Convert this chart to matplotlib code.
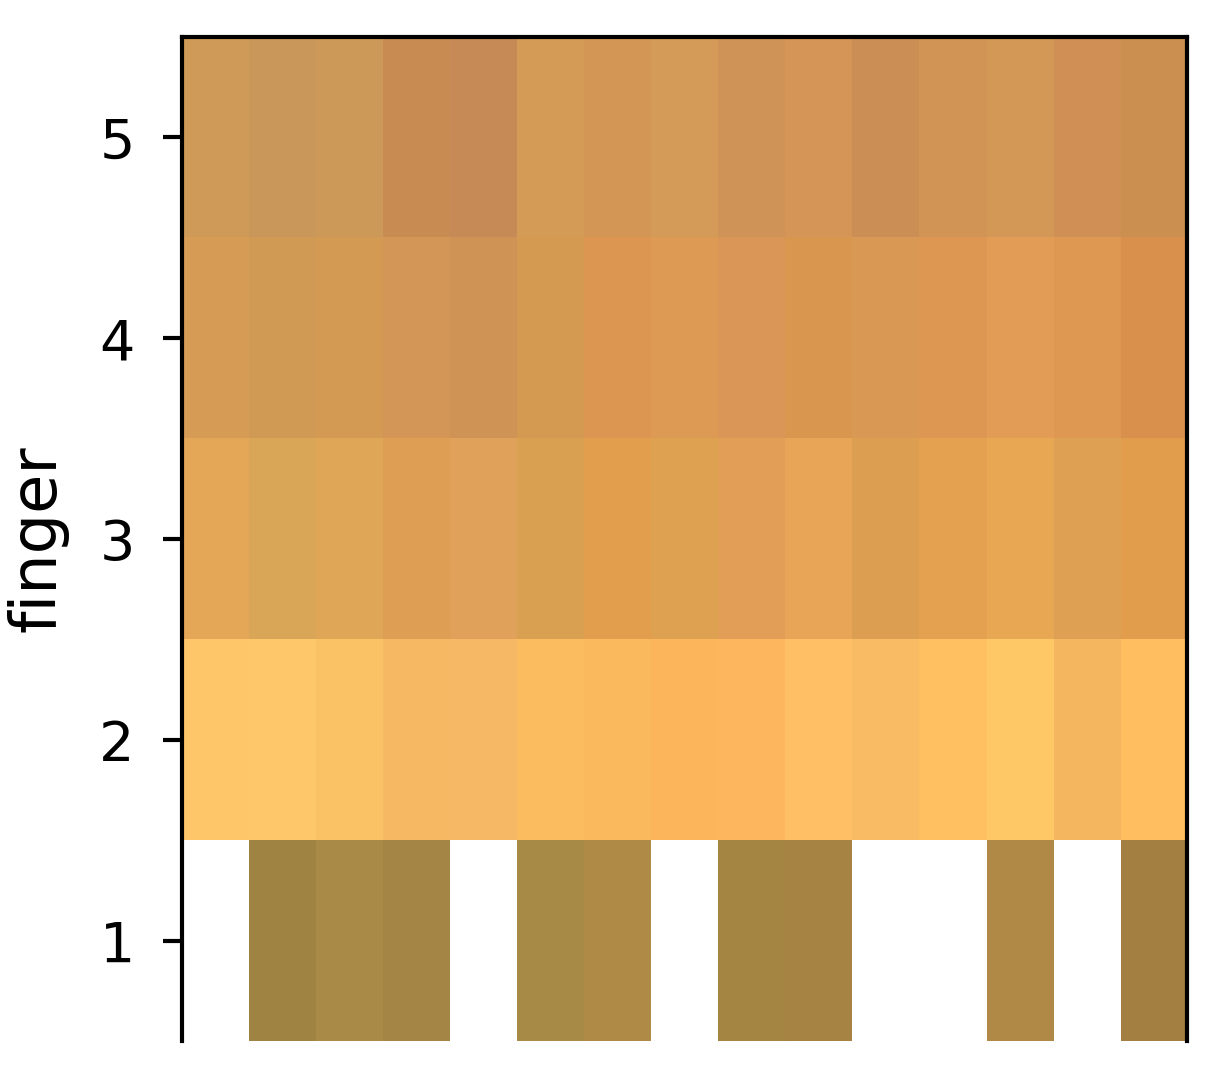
import numpy as np
import matplotlib.pyplot as plt
from matplotlib.colors import to_rgba

fingers = [1, 2, 3, 4, 5]

# cell colours per finger, 15 columns each (None = missing)
finger1 = [None, '#9e8343', '#a98a46', '#a58545', None, '#a68a45', '#ae8a46', None,
           '#a58542', '#a68342', None, None, '#af8945', None, '#a37f42']
finger2 = ['#fec669', '#fec86a', '#fbc265', '#f6b863', '#f7b865', '#fbbc5f', '#fbb95e', '#fdb55c',
           '#fdb65e', '#febf65', '#f9bb64', '#ffc062', '#ffc866', '#f5b660', '#ffbe5f']
finger3 = ['#e4a657', '#d9a657', '#dfa657', '#de9f55', '#e0a15a', '#d8a050', '#e29d4d', '#dea151',
           '#e29e56', '#e8a557', '#dc9f52', '#e4a150', '#e8a752', '#dea052', '#e19c4c']
finger4 = ['#d69b55', '#d19a54', '#d39a54', '#d49656', '#d09356', '#d49a51', '#dd9652', '#dc9a54',
           '#d99656', '#d8964f', '#d99853', '#de9752', '#e29c56', '#df9852', '#d9904d']
finger5 = ['#cf9a57', '#c9975a', '#cd9958', '#c88b52', '#c58a55', '#d39b55', '#d49655', '#d49a57',
           '#d09357', '#d59556', '#cb8e55', '#d19455', '#d49856', '#cf8f55', '#cb904f']

rows = [finger1, finger2, finger3, finger4, finger5]
img = np.array([[to_rgba(c) if c else (1, 1, 1, 0) for c in r] for r in rows])
ncol = img.shape[1]

fig = plt.figure(figsize=(12.31, 10.78), dpi=100)
ax = fig.add_axes([0.1478, 0.0343, 0.8165, 0.9314])
ax.imshow(img, origin='lower', aspect='auto', interpolation='nearest',
          extent=(0.5, ncol + 0.5, 0.5, len(fingers) + 0.5))

ax.set_yticks(fingers)
ax.set_yticklabels([str(f) for f in fingers])
ax.set_xticks([])
ax.tick_params(axis='y', labelsize=40, length=14, width=3, pad=20)
for s in ['left', 'top', 'right']:
    ax.spines[s].set_linewidth(3)
ax.spines['bottom'].set_visible(False)

ax.set_ylabel('finger', fontsize=46)
ax.yaxis.set_label_coords(-0.113, 0.5)

fig.savefig('out.png', dpi=100)
